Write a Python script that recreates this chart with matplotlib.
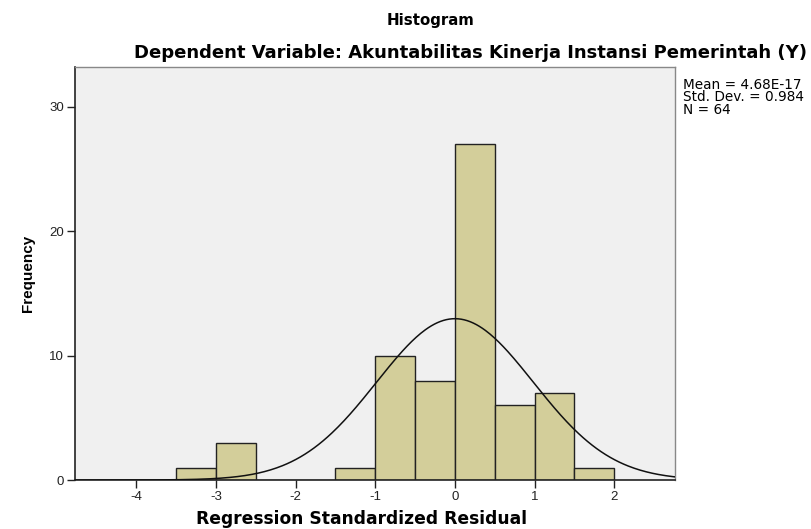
import numpy as np
import matplotlib.pyplot as plt

plt.rcParams['font.family'] = ['Liberation Sans', 'DejaVu Sans']

# histogram bins (width 0.5) and counts
bin_edges = [-3.5, -3.0, -2.5, -2.0, -1.5, -1.0, -0.5, 0.0, 0.5, 1.0, 1.5, 2.0]
counts = [1, 3, 0, 0, 1, 10, 8, 27, 6, 7, 1]
mean = 4.68e-17
sd = 0.984
n = 64
x_ticks = [-4, -3, -2, -1, 0, 1, 2]
y_ticks = [0, 10, 20, 30]

fig = plt.figure(figsize=(8.11, 5.29), dpi=100)
ax = fig.add_axes([0.0925, 0.0926, 0.7395, 0.7804])
ax.set_facecolor('#f0f0f0')

lefts = np.array(bin_edges[:-1])
widths = np.diff(bin_edges)
ax.bar(lefts, counts, width=widths, align='edge', color='#d3ce9a',
       edgecolor='#222222', linewidth=1.0, zorder=2)

# normal curve scaled to counts
xs = np.linspace(-4.77, 2.76, 400)
bw = 0.5
ys = n * bw / (sd * np.sqrt(2 * np.pi)) * np.exp(-0.5 * ((xs - mean) / sd) ** 2)
ax.plot(xs, ys, color='#111111', linewidth=1.1, zorder=3)

ax.set_xlim(-4.77, 2.76)
ax.set_ylim(0, 33.2)
ax.set_xticks(x_ticks)
ax.set_xticklabels([str(t) for t in x_ticks])
ax.set_yticks(y_ticks)
ax.tick_params(direction='out', length=6, width=1, labelsize=9.5, colors='#222222', pad=2)

for side in ['left', 'bottom']:
    ax.spines[side].set_color('#222222')
    ax.spines[side].set_linewidth(1.2)
for side in ['top', 'right']:
    ax.spines[side].set_color('#888888')
    ax.spines[side].set_linewidth(1.0)

ax.set_xlabel('Regression Standardized Residual', fontsize=12.3, fontweight='bold',
              family='DejaVu Sans')
ax.xaxis.set_label_coords((362 - 75) / 600, -0.072)
ax.set_ylabel('Frequency', fontsize=11, fontweight='bold', labelpad=10)

fig.text(431 / 811, 1 - 20 / 529, 'Histogram', ha='center', va='center',
         fontsize=10.8, fontweight='bold', family='DejaVu Sans')
fig.text(470 / 811, 1 - 53 / 529, 'Dependent Variable: Akuntabilitas Kinerja Instansi Pemerintah (Y)',
         ha='center', va='center', fontsize=13, fontweight='bold', family='DejaVu Sans')
fig.text(683 / 811, 1 - 78 / 529, 'Mean = 4.68E-17\nStd. Dev. = 0.984\nN = 64',
         ha='left', va='top', fontsize=9.8, linespacing=0.85, family='DejaVu Sans')

fig.savefig('out.png', dpi=100)
